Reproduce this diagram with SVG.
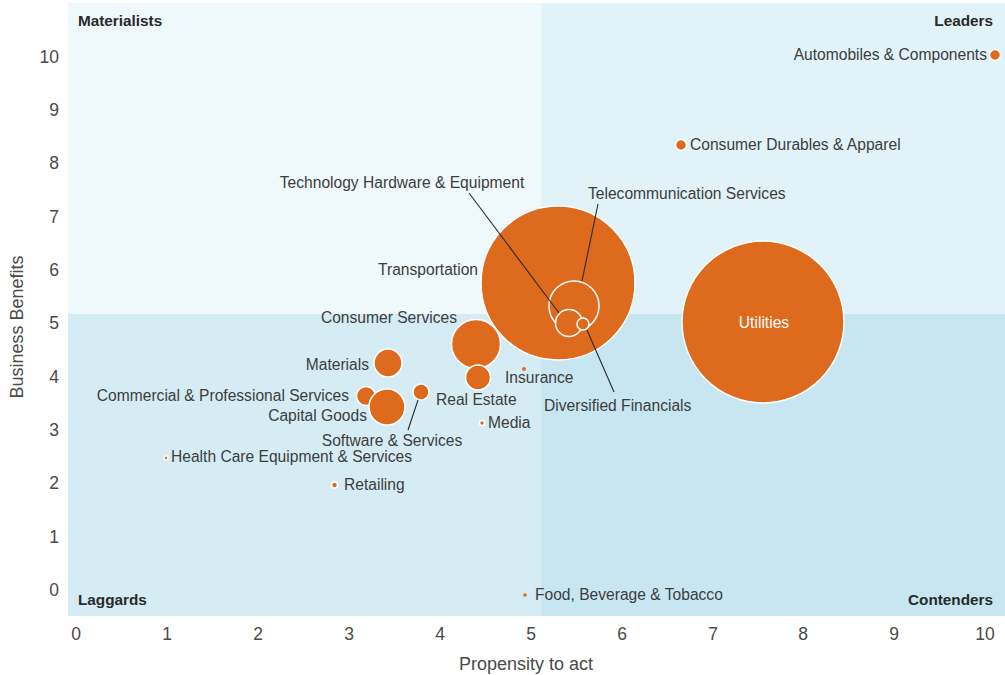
<svg xmlns="http://www.w3.org/2000/svg" width="1005" height="675" viewBox="0 0 1005 675">
<style>
.lbl{font-family:"Liberation Sans",Arial,sans-serif;font-size:15.6px;fill:#3d3d3d;}
.q{font-family:"Liberation Sans",Arial,sans-serif;font-size:15.3px;font-weight:bold;fill:#2a2a2a;}
.tick{font-family:"Liberation Sans",Arial,sans-serif;font-size:17.5px;fill:#4a4a4a;}
.ax{font-family:"Liberation Sans",Arial,sans-serif;font-size:18px;fill:#4a4a4a;}
.b{fill:#de6a1e;stroke:#ffffff;stroke-width:1.5;}
.lead{stroke:#2a2a2a;stroke-width:1.1;fill:none;}
</style>
<rect width="1005" height="675" fill="#ffffff"/>
<g id="quadrants">
<rect x="68" y="3" width="473" height="311" fill="#eff8fb"/>
<rect x="541" y="3" width="464" height="311" fill="#e1f2f8"/>
<rect x="68" y="314" width="473" height="302" fill="#d5ecf4"/>
<rect x="541" y="314" width="464" height="302" fill="#c7e6f1"/>
<text class="q" x="78" y="26">Materialists</text>
<text class="q" x="993" y="26" text-anchor="end">Leaders</text>
<text class="q" x="78" y="605">Laggards</text>
<text class="q" x="993" y="605" text-anchor="end">Contenders</text>
</g>
<g id="axes">
<g class="tick" text-anchor="end">
<text x="59" y="63">10</text><text x="59" y="116">9</text><text x="59" y="169">8</text><text x="59" y="223">7</text><text x="59" y="276">6</text><text x="59" y="329">5</text><text x="59" y="383">4</text><text x="59" y="436">3</text><text x="59" y="489">2</text><text x="59" y="543">1</text><text x="59" y="596">0</text>
</g>
<g class="tick" text-anchor="middle">
<text x="76" y="640">0</text><text x="167" y="640">1</text><text x="258" y="640">2</text><text x="349" y="640">3</text><text x="440" y="640">4</text><text x="531" y="640">5</text><text x="622" y="640">6</text><text x="713" y="640">7</text><text x="803" y="640">8</text><text x="894" y="640">9</text><text x="985" y="640">10</text>
</g>
<text class="ax" x="526" y="670" text-anchor="middle">Propensity to act</text>
<text class="ax" x="0" y="0" text-anchor="middle" transform="translate(23,327) rotate(-90)">Business Benefits</text>
</g>
<g id="transportation"><circle class="b" cx="558" cy="283" r="77"/><text class="lbl" x="478" y="275" text-anchor="end">Transportation</text></g>
<g id="telecom"><circle class="b" cx="574" cy="306" r="25"/><text class="lbl" x="588" y="199">Telecommunication Services</text></g>
<g id="techhw"><circle class="b" cx="569" cy="323" r="13.5"/><text class="lbl" x="402" y="188" text-anchor="middle">Technology Hardware &amp; Equipment</text></g>
<g id="divfin"><circle class="b" cx="583" cy="324" r="6"/><text class="lbl" x="544" y="411">Diversified Financials</text></g>
<g id="utilities"><circle class="b" cx="763" cy="322" r="81"/><text x="764" y="328" text-anchor="middle" style="font-family:'Liberation Sans',Arial,sans-serif;font-size:15.6px;fill:#ffffff">Utilities</text></g>
<g id="automobiles"><circle class="b" cx="995" cy="55" r="5.5"/><text class="lbl" x="987" y="60" text-anchor="end">Automobiles &amp; Components</text></g>
<g id="durables"><circle class="b" cx="681" cy="145" r="5.5"/><text class="lbl" x="690" y="150">Consumer Durables &amp; Apparel</text></g>
<g id="consumerservices"><circle class="b" cx="476" cy="344" r="24.5"/><text class="lbl" x="457" y="323" text-anchor="end">Consumer Services</text></g>
<g id="realestate"><circle class="b" cx="478" cy="377.5" r="12.5"/><text class="lbl" x="436" y="405">Real Estate</text></g>
<g id="insurance"><circle cx="524" cy="369" r="2" fill="#de6a1e"/><text class="lbl" x="505" y="383">Insurance</text></g>
<g id="materials"><circle class="b" cx="388" cy="363" r="14"/><text class="lbl" x="369" y="370" text-anchor="end">Materials</text></g>
<g id="commercial"><circle class="b" cx="366" cy="396" r="9.5"/><text class="lbl" x="349" y="401" text-anchor="end">Commercial &amp; Professional Services</text></g>
<g id="capitalgoods"><circle class="b" cx="387" cy="407" r="18"/><text class="lbl" x="367" y="421" text-anchor="end">Capital Goods</text></g>
<g id="software"><circle class="b" cx="421" cy="392" r="8"/><text class="lbl" x="392" y="446" text-anchor="middle">Software &amp; Services</text></g>
<g id="media"><circle class="b" cx="482" cy="423" r="2.5" stroke-width="1"/><text class="lbl" x="488" y="428">Media</text></g>
<g id="healthcare"><circle class="b" cx="166" cy="458" r="2" stroke-width="1"/><text class="lbl" x="171" y="462">Health Care Equipment &amp; Services</text></g>
<g id="retailing"><circle class="b" cx="334.5" cy="485" r="3" stroke-width="1"/><text class="lbl" x="344" y="490">Retailing</text></g>
<g id="food"><circle cx="525" cy="595" r="1.8" fill="#de6a1e"/><text class="lbl" x="535" y="600">Food, Beverage &amp; Tobacco</text></g>
<g id="connectors">
<line class="lead" x1="469" y1="193" x2="559" y2="313"/>
<line class="lead" x1="598" y1="204" x2="582" y2="281"/>
<line class="lead" x1="587" y1="330" x2="614" y2="392"/>
<line class="lead" x1="418" y1="400" x2="408" y2="430"/>
</g>
</svg>
